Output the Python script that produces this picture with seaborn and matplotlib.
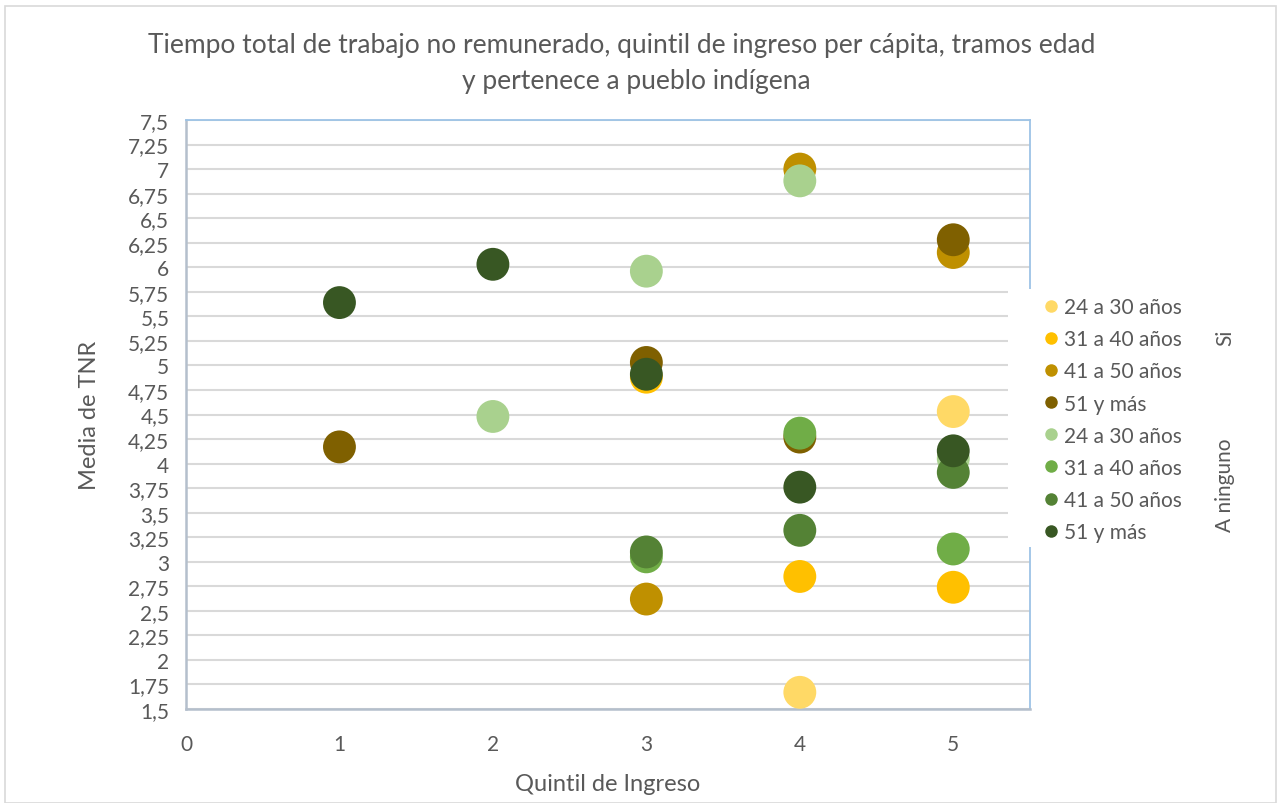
import matplotlib.pyplot as plt
import pandas as pd
import seaborn as sns
from matplotlib.lines import Line2D
from matplotlib.patches import Rectangle

# Data (Quintil de ingreso -> Media de TNR)
quintil_si_24_30 = [4, 5]
tnr_si_24_30 = [1.67, 4.53]
quintil_si_31_40 = [3, 4, 5]
tnr_si_31_40 = [4.88, 2.85, 2.74]
quintil_si_41_50 = [3, 4, 5]
tnr_si_41_50 = [2.62, 7.00, 6.15]
quintil_si_51 = [1, 3, 4, 5]
tnr_si_51 = [4.17, 5.03, 4.27, 6.28]

quintil_no_24_30 = [2, 3, 4, 5]
tnr_no_24_30 = [4.48, 5.96, 6.88, 4.05]
quintil_no_31_40 = [3, 4, 5]
tnr_no_31_40 = [3.05, 4.31, 3.13]
quintil_no_41_50 = [3, 4, 5]
tnr_no_41_50 = [3.10, 3.32, 3.91]
quintil_no_51 = [1, 2, 3, 4, 5]
tnr_no_51 = [5.64, 6.03, 4.91, 3.76, 4.13]

edades = ["24 a 30 años", "31 a 40 años", "41 a 50 años", "51 y más"]
colores_si = ["#FFD966", "#FFC000", "#BF9000", "#7F6000"]
colores_no = ["#A9D18E", "#70AD47", "#548235", "#385723"]

series = [
    ("Si", edades[0], quintil_si_24_30, tnr_si_24_30),
    ("Si", edades[1], quintil_si_31_40, tnr_si_31_40),
    ("Si", edades[2], quintil_si_41_50, tnr_si_41_50),
    ("Si", edades[3], quintil_si_51, tnr_si_51),
    ("A ninguno", edades[0], quintil_no_24_30, tnr_no_24_30),
    ("A ninguno", edades[1], quintil_no_31_40, tnr_no_31_40),
    ("A ninguno", edades[2], quintil_no_41_50, tnr_no_41_50),
    ("A ninguno", edades[3], quintil_no_51, tnr_no_51),
]

rows = []
for pueblo, edad, qs, vals in series:
    for q, v in zip(qs, vals):
        rows.append({"serie": pueblo + " - " + edad, "quintil": q, "tnr": v})
df = pd.DataFrame(rows)

serie_order = [p + " - " + e for p, e, _, _ in series]
palette = dict(zip(serie_order, colores_si + colores_no))

sns.set_style("white")
plt.rcParams["font.family"] = ["Lato", "DejaVu Sans"]
gris = "#595959"

fig = plt.figure(figsize=(12.81, 8.04), dpi=100)
ax = fig.add_axes([186 / 1281, 1 - 710 / 804, (1030 - 186) / 1281, (710 - 121) / 804])

sns.scatterplot(data=df, x="quintil", y="tnr", hue="serie", hue_order=serie_order,
                palette=palette, s=560, linewidth=0, alpha=1, legend=False, ax=ax, zorder=3)

ax.set_xlim(0, 5.5)
ax.set_ylim(1.5, 7.5)
ax.set_xticks(range(0, 6))
yt = [1.5 + 0.25 * i for i in range(25)]
ax.set_yticks(yt)
ax.set_yticklabels([("%g" % v).replace(".", ",") for v in yt])
ax.tick_params(axis="both", length=0, labelsize=15, labelcolor=gris)
ax.tick_params(axis="x", pad=18)
ax.tick_params(axis="y", pad=12)
ax.yaxis.grid(True, color="#d9d9d9", linewidth=1.5)
ax.xaxis.grid(False)
ax.set_axisbelow(True)
for side in ["top", "right"]:
    ax.spines[side].set_color("#9DC3E6")
    ax.spines[side].set_linewidth(1.3)
for side in ["left", "bottom"]:
    ax.spines[side].set_color("#B4BFCC")
    ax.spines[side].set_linewidth(1.8)

ax.set_xlabel("Quintil de Ingreso", fontsize=17, color=gris, labelpad=14)
ax.set_ylabel("Media de TNR", fontsize=17, color=gris, labelpad=20)

fig.text(622 / 1281, 1 - 46 / 804, "Tiempo total de trabajo no remunerado, quintil de ingreso per cápita, tramos edad",
         ha="center", va="center", fontsize=19, color=gris)
fig.text(636 / 1281, 1 - 81 / 804, "y pertenece a pueblo indígena",
         ha="center", va="center", fontsize=19, color=gris)

# legend
handles = [Line2D([0], [0], marker="o", linestyle="", markersize=9, markerfacecolor=c,
                  markeredgewidth=0) for c in colores_si + colores_no]
labels = edades + edades
fig.patches.append(Rectangle((1008 / 1281, 1 - 548 / 804), 200 / 1281, 258 / 804,
                             transform=fig.transFigure, facecolor="white", edgecolor="none", zorder=5))
leg = fig.legend(handles, labels, loc="upper left", bbox_to_anchor=(1035 / 1281, 1 - 291 / 804),
                 frameon=False, fontsize=15, labelcolor=gris, handletextpad=0.25,
                 labelspacing=0.58, borderpad=0.35, handlelength=0.8, borderaxespad=0)
leg.set_zorder(10)

fig.text(1225 / 1281, 1 - 338 / 804, "Si", rotation=90, ha="center", va="center", fontsize=15, color=gris)
fig.text(1225 / 1281, 1 - 485 / 804, "A ninguno", rotation=90, ha="center", va="center", fontsize=15, color=gris)

fig.patches.append(Rectangle((5 / 1281, 0), 1271 / 1281, 1 - 7 / 804, transform=fig.transFigure,
                             facecolor="none", edgecolor="#d9d9d9", linewidth=1.2))

fig.savefig("out.png", dpi=100)
